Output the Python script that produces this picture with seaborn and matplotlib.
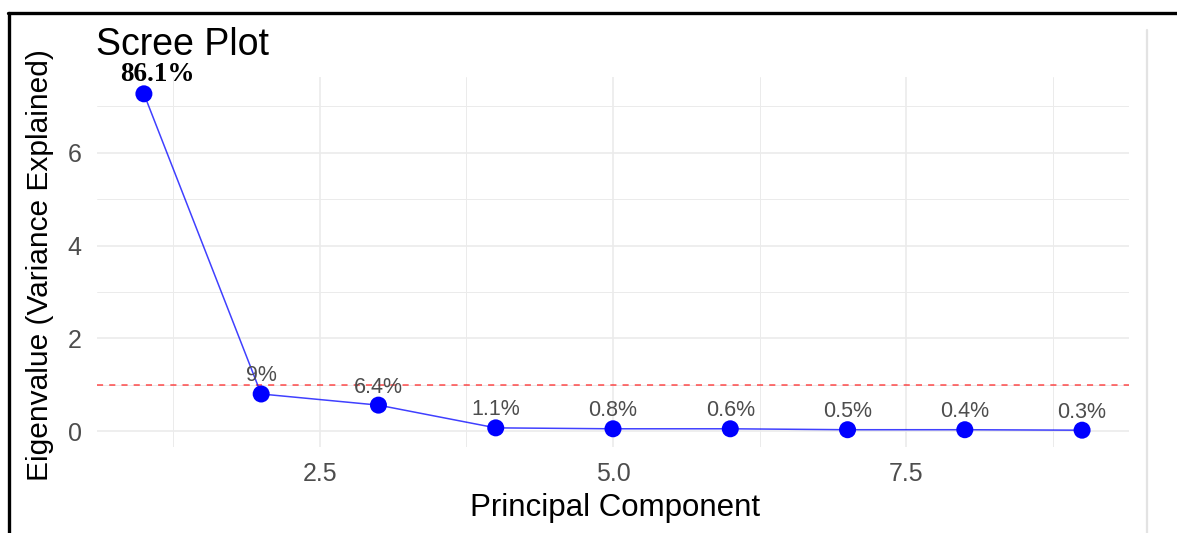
import matplotlib
matplotlib.use("Agg")
import matplotlib.pyplot as plt
from matplotlib.lines import Line2D
from matplotlib.ticker import FixedLocator
import pandas as pd
import seaborn as sns

# PCA results
components = [1, 2, 3, 4, 5, 6, 7, 8, 9]
eigenvalues = [7.27, 0.80, 0.56, 0.07, 0.05, 0.05, 0.03, 0.03, 0.02]
variance_labels = ["86.1%", "9%", "6.4%", "1.1%", "0.8%", "0.6%", "0.5%", "0.4%", "0.3%"]
kaiser_cutoff = 1.0
x_major = [2.5, 5.0, 7.5]
x_minor = [1.25, 3.75, 6.25, 8.75]
y_major = [0, 2, 4, 6]
y_minor = [1, 3, 5, 7]

df = pd.DataFrame({"pc": components, "eig": eigenvalues, "label": variance_labels})

sns.set_theme(style="white")
plt.rcParams["font.family"] = ["Liberation Sans", "DejaVu Sans"]

W, H = 1177, 533
fig = plt.figure(figsize=(W / 100, H / 100), dpi=100)
ax = fig.add_axes([97 / W, 1 - 447 / H, (1129 - 97) / W, (447 - 77) / H])

# gridlines in the style of a minimal theme
grid_col = "#EBEBEB"
ax.xaxis.set_major_locator(FixedLocator(x_major))
ax.xaxis.set_minor_locator(FixedLocator(x_minor))
ax.yaxis.set_major_locator(FixedLocator(y_major))
ax.yaxis.set_minor_locator(FixedLocator(y_minor))
ax.grid(which="major", color=grid_col, linewidth=1.2)
ax.grid(which="minor", color=grid_col, linewidth=0.7)
ax.set_axisbelow(True)
for s in ax.spines.values():
    s.set_visible(False)

# Kaiser criterion
ax.axhline(kaiser_cutoff, color="red", linestyle=(0, (4, 4)), linewidth=1.1, alpha=0.7, zorder=2)

sns.lineplot(data=df, x="pc", y="eig", color="blue", linewidth=1.1, alpha=0.75, ax=ax, zorder=3)
sns.scatterplot(data=df, x="pc", y="eig", color="blue", s=150, edgecolor="none", ax=ax, zorder=4)

for i, row in df.iterrows():
    if i == 0:
        ax.annotate(row["label"], (row["pc"], row["eig"]), xytext=(10, 9), textcoords="offset points",
                    ha="center", va="baseline", fontsize=19.5, fontweight="bold",
                    family=["Liberation Serif", "DejaVu Serif"], color="black", zorder=5)
    else:
        ax.annotate(row["label"], (row["pc"], row["eig"]), xytext=(0, 9), textcoords="offset points",
                    ha="center", va="baseline", fontsize=15.5, color="#4D4D4D", zorder=5)

rng = max(eigenvalues) - min(eigenvalues)
ax.set_xlim(min(components) - 0.05 * (max(components) - min(components)),
            max(components) + 0.05 * (max(components) - min(components)))
ax.set_ylim(min(eigenvalues) - 0.05 * rng, max(eigenvalues) + 0.05 * rng)

ax.xaxis.set_major_formatter(plt.FuncFormatter(lambda v, p: f"{v:.1f}"))
ax.yaxis.set_major_formatter(plt.FuncFormatter(lambda v, p: f"{v:.0f}"))
ax.tick_params(which="both", length=0)
ax.tick_params(axis="x", labelsize=18, labelcolor="#4D4D4D", pad=11)
ax.tick_params(axis="y", labelsize=18, labelcolor="#4D4D4D", pad=11)
ax.set_xlabel("")
ax.set_ylabel("")

fig.text(96 / W, 1 - 55 / H, "Scree Plot", fontsize=27, color="black", ha="left", va="baseline")
fig.text(615 / W, 1 - 516 / H, "Principal Component", fontsize=22.5, color="black", ha="center", va="baseline")
fig.text(40 / W, 1 - 265 / H, "Eigenvalue (Variance Explained)", fontsize=21.5, color="black",
         ha="center", va="center", rotation=90)

# page frame
top_y = 1 - 13 / H
fig.add_artist(Line2D([8 / W, 1], [top_y, top_y], color="black", linewidth=2.4, transform=fig.transFigure))
fig.add_artist(Line2D([9 / W, 9 / W], [0, top_y], color="black", linewidth=2.4, transform=fig.transFigure))
fig.add_artist(Line2D([1147 / W, 1147 / W], [0, 1 - 30 / H], color="#E3E3E3", linewidth=1.6,
                      transform=fig.transFigure))

fig.savefig("out.png", dpi=100, facecolor="white")
